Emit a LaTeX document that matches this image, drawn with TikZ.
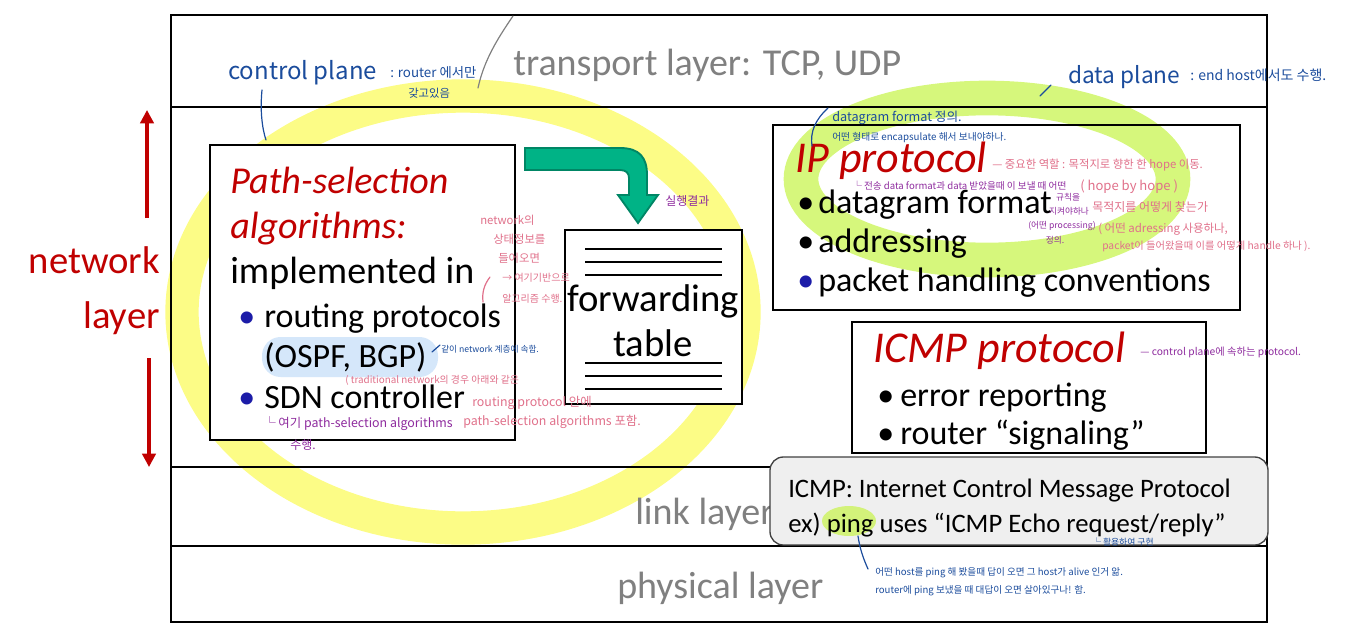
\documentclass[tikz,border=0pt]{standalone}
\usepackage{fontspec}
\setmainfont{Carlito}
\newfontfamily\hanfont{Noto Sans CJK KR}
\usepackage{tikz}
\usetikzlibrary{arrows.meta, positioning, calc, fit}
\usepackage{xcolor}
\definecolor{netred}{HTML}{C00000}
\definecolor{laygray}{HTML}{808080}
\definecolor{bulblue}{HTML}{1C1CA8}
\definecolor{ringyellow}{HTML}{FCFC86}
\definecolor{ringgreen}{HTML}{D6F77C}
\definecolor{hlblue}{HTML}{D5E7FA}
\definecolor{hlgreen}{HTML}{D3F27A}
\definecolor{penblue}{HTML}{1B4C9C}
\definecolor{penpink}{HTML}{E0708A}
\definecolor{penpurple}{HTML}{8E2B9E}
\definecolor{arrowteal}{HTML}{00B386}
\definecolor{calloutgray}{HTML}{EFEFEF}

\begin{document}
\begin{tikzpicture}[x=0.75pt, y=-0.75pt,
    box/.style={draw=black, line width=1.6pt, inner sep=0pt},
    layertxt/.style={text=laygray, font=\fontsize{28.5}{32}\selectfont, anchor=base west, inner sep=0pt},
    bodytxt/.style={font=\fontsize{25.5}{30}\selectfont, anchor=base west, inner sep=0pt},
    bigtxt/.style={font=\fontsize{28.5}{32}\selectfont, anchor=base west, inner sep=0pt},
    smalltxt/.style={font=\fontsize{20}{23}\selectfont, anchor=base west, inner sep=0pt},
    headtxt/.style={text=netred, font=\fontsize{33}{36}\selectfont\itshape, anchor=base west, inner sep=0pt},
    pen/.style={font=\hanfont\fontsize{#1}{#1}\selectfont, anchor=base west, inner sep=0pt},
    penline/.style={line width=0.9pt, line cap=round},
    netarrow/.style={netred, line width=2.4pt, -{Triangle[length=10pt, width=10pt]}},
    tablerule/.style={line width=1.5pt}
]
\useasboundingbox (0,0) rectangle (1349,632);

% highlighter rings (behind everything)
\draw[ringyellow, line width=25pt] (463,312) ellipse [x radius=281, y radius=216];
\draw[ringgreen, line width=26pt] (987,179) ellipse [x radius=186, y radius=81];

% layer frame
\draw[line width=2pt] (171,15) rectangle (1267,622);
\draw[line width=2pt] (171,107) -- (1267,107);
\draw[line width=2pt] (171,467) -- (1267,467);
\draw[line width=2pt] (171,546) -- (1267,546);

\node[layertxt] (transT) at (513,75) {transport layer: TCP, UDP};
\node[layertxt] (linkT) at (635,524) {link layer};
\node[layertxt] (physT) at (617,598) {physical layer};

% network layer label
\node[text=netred, font=\fontsize{29}{32}\selectfont, anchor=base east, inner sep=0pt] (netT) at (160,273) {network};
\node[text=netred, font=\fontsize{29}{32}\selectfont, anchor=base east, inner sep=0pt] (layT) at (160,328) {layer};
\coordinate (upS) at (147,218);
\coordinate (upE) at (147,110);
\coordinate (dnS) at (149,358);
\coordinate (dnE) at (149,467);
\draw[netarrow] (upS) -- (upE);
\draw[netarrow] (dnS) -- (dnE);

% control plane box
\node[box, fill=white, fit={(210,145) (515,440)}] (pathbox) {};
\fill[hlblue, rounded corners=14pt] (262,337) rectangle (438,377);
\node[headtxt, font=\fontsize{28.5}{32}\selectfont\itshape] (pathT) at (230,193) {Path-selection};
\node[headtxt, font=\fontsize{28.5}{32}\selectfont\itshape] (algT) at (230,238) {algorithms:};
\node[bigtxt] (implT) at (230,283) {implemented in};
\node[bodytxt, text=bulblue] (bulA) at (238,327) {•};
\node[bodytxt] (routT) at (264,327) {routing protocols};
\node[bodytxt] (ospfT) at (264,367) {(OSPF, BGP)};
\node[bodytxt, text=bulblue] (bulB) at (238,408) {•};
\node[bodytxt] (sdnT) at (264,408) {SDN controller};

% forwarding table
\node[box, fill=white, fit={(565,230) (742,404)}] (fwdbox) {};
\foreach \ry in {249,262,275,363,376,389}
  \draw[tablerule] (585,\ry) -- (722,\ry);
\node[bigtxt, anchor=base, font=\fontsize{29}{32}\selectfont] (fwdT) at (653,311) {forwarding};
\node[bigtxt, anchor=base, font=\fontsize{29}{32}\selectfont] (tabT) at (653,356) {table};

% bent arrow
\filldraw[fill=arrowteal, draw=arrowteal!75!black, line width=1.4pt]
  (525,148) -- (620,148) .. controls (640,148) and (647,158) .. (647,175)
  -- (647,195) -- (658,195) -- (638,223) -- (618,195) -- (629,195)
  -- (629,178) .. controls (629,173) and (626,170) .. (620,170) -- (525,170) -- cycle;

% IP protocol box
\node[box, fit={(773,125) (1240,310)}] (ipbox) {};
\node[headtxt] (ipT) at (795,172) {IP protocol};
\node[bodytxt] (bulC) at (797,213) {•};
\node[bodytxt] (dgT) at (818,213) {datagram format};
\node[bodytxt] (bulD) at (797,252) {•};
\node[bodytxt] (addrT) at (818,252) {addressing};
\node[bodytxt, text=bulblue] (bulE) at (797,291) {•};
\node[bodytxt] (pktT) at (818,291) {packet handling conventions};

% ICMP protocol box
\node[box, fill=white, fit={(852,322) (1206,453)}] (icmpbox) {};
\node[headtxt] (icmpT) at (873,362) {ICMP protocol};
\node[bodytxt] (bulF) at (877,406) {•};
\node[bodytxt] (errT) at (900,406) {error reporting};
\node[bodytxt] (bulG) at (877,444) {•};
\node[bodytxt] (sigT) at (900,444) {router “signaling”};

% ICMP callout
\node[fill=calloutgray, draw=black!75, line width=1pt, rounded corners=10pt, inner sep=0pt, fit={(770,457) (1268,545)}] (icmpnote) {};
\fill[hlgreen] (849,521) ellipse [x radius=27, y radius=15];
\node[smalltxt] (noteA) at (788,497) {ICMP: Internet Control Message Protocol};
\node[smalltxt] (noteB) at (788,532) {ex) ping uses “ICMP Echo request/reply”};

% pen notes: control plane
\node[pen=18, text=penblue] (cpT) at (228,79) {control plane};
\node[pen=10, text=penblue] (cpN) at (390,77) {: router 에서만};
\node[pen=8.5, text=penblue] (cpM) at (408,97) {갖고있음};
\coordinate (cpE) at (266,140);
\draw[penline, penblue] (262,90) .. controls (260,110) and (262,128) .. (cpE);
\coordinate (trE) at (513,16);
\draw[penline, laygray] (478,88) .. controls (484,60) and (498,38) .. (trE);

% pen notes: data plane
\node[pen=17, text=penblue] (dpT) at (1068,83) {data plane};
\node[pen=10.5, text=penblue] (dpN) at (1190,80) {: end host에서도 수행.};
\draw[penline, penblue] (1040,96) -- (1051,85);
\node[pen=9.5, text=penblue] (dgN) at (832,121) {datagram format 정의.};
\node[pen=7.3, text=penblue] (dgM) at (832,140) {어떤 형태로 encapsulate 해서 보내야하나.};
\draw[penline, penblue] (828,108) .. controls (815,120) and (810,132) .. (812,146);

% pen notes: IP protocol
\node[pen=8.5, text=penpink] (ipN1) at (992,168) {— 중요한 역할 : 목적지로 향한 한 hope 이동.};
\node[pen=9.8, text=penpink] (ipN2) at (1080,190) {( hope by hope )};
\node[pen=9, text=penpink] (ipN3) at (1092,211) {목적지를 어떻게 찾는가};
\node[pen=8.6, text=penpink] (ipN4) at (1098,232) {( 어떤 adressing 사용하나,};
\node[pen=7.7, text=penpink] (ipN5) at (1102,249) {packet이 들어왔을때 이를 어떻게 handle 하나 ).};
\node[pen=7.2, text=penpurple] (dfN1) at (852,189) {└ 전송 data format과 data 받았을때 이 보낼 때 어떤};
\node[pen=6.5, text=penpurple, anchor=base] (dfN2) at (1068,200) {규칙을};
\node[pen=6.5, text=penpurple, anchor=base] (dfN3) at (1069,214) {지켜야하나};
\node[pen=6.5, text=penpurple, anchor=base] (dfN4) at (1062,228) {(어떤 processing)};
\node[pen=6.5, text=penpurple, anchor=base] (dfN5) at (1055,243) {정의.};

% pen notes: path selection
\node[pen=8.5, text=penpink] (psN1) at (480,224) {network의};
\node[pen=8.5, text=penpink] (psN2) at (493,243) {상태정보를};
\node[pen=8.5, text=penpink] (psN3) at (498,262) {들어오면};
\node[pen=7.5, text=penpink] (psN4) at (502,281) {→ 여기기반으로};
\node[pen=7.5, text=penpink] (psN5) at (502,302) {알고리즘 수행.};
\draw[penline, penpink] (490,277) .. controls (484,285) and (482,292) .. (483,302);
\node[pen=9, text=penpurple] (runN) at (665,205) {실행결과};
\node[pen=6.5, text=penblue] (ospfN) at (441,352) {같이 network 계층에 속함.};
\draw[penline, penblue] (432,352) -- (440,345);
\node[pen=7.4, text=penpink] (trN1) at (345,383) {( traditional network의 경우 아래와 같은};
\node[pen=9.3, text=penpink] (trN2) at (472,406) {routing protocol 안에};
\node[pen=9.3, text=penpink] (trN3) at (463,425) {path-selection algorithms 포함.};
\node[pen=9.3, text=penpurple] (sdN1) at (263,427) {└ 여기 path-selection algorithms};
\node[pen=9, text=penpurple] (sdN2) at (290,449) {수행.};

% pen notes: ICMP
\node[pen=7.7, text=penpurple] (icN) at (1140,355) {— control plane에 속하는 protocol.};
\node[pen=6.6, text=penblue] (useN) at (1092,545) {└ 활용하여 구현};
\node[pen=7.2, text=penblue] (pingN1) at (875,575) {어떤 host를 ping 해 봤을때 답이 오면 그 host가 alive 인거 앎.};
\node[pen=7.2, text=penblue] (pingN2) at (875,593) {router에 ping 보냈을 때 대답이 오면 살아있구나! 함.};
\draw[penline, penblue] (858,536) .. controls (860,550) and (864,560) .. (868,569);
\end{tikzpicture}
\end{document}
